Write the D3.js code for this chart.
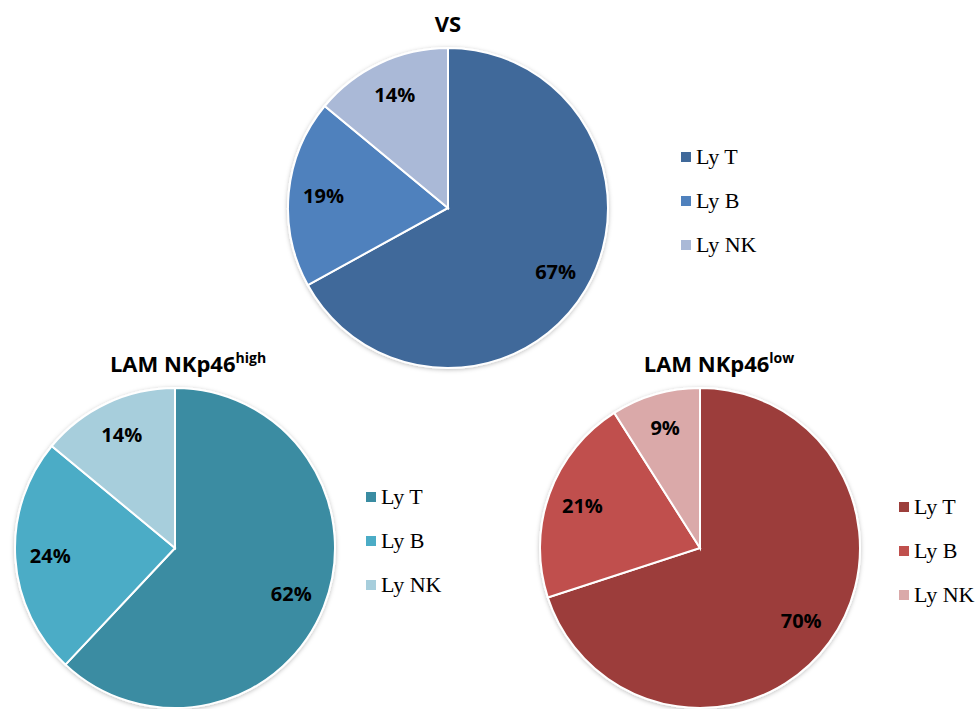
<!DOCTYPE html>
<html lang="en">
<head>
<meta charset="UTF-8">
<title>Pies</title>
<script src="https://d3js.org/d3.v7.min.js"></script>
<style>
html, body { margin: 0; padding: 0; background: #fff; }
svg { display: block; }
.title { font-family: 'Open Sans', sans-serif; font-weight: bold; font-size: 22px; fill: #000; }
.pct { font-family: 'Open Sans', sans-serif; font-weight: bold; font-size: 20px; fill: #000; }
.leg { font-family: 'Liberation Serif', 'Times New Roman', serif; font-size: 22px; fill: #000; }
</style>
</head>
<body>
<svg id="canvas"></svg>
<script>
let categories = ['Ly T', 'Ly B', 'Ly NK']

let vsValues = [67, 19, 14]
let highValues = [62, 24, 14]
let lowValues = [70, 21, 9]

let vsColors = ['#40699A', '#4F81BD', '#AAB9D7']
let highColors = ['#3A8CA2', '#4BACC6', '#A7CEDC']
let lowColors = ['#9C3E3B', '#C0504D', '#DAA9A9']

let width = 980
let height = 709
let radius = 160
let labelRadius = 125

let charts = [
    { title: 'VS', sup: '', values: vsValues, colors: vsColors, cx: 448, cy: 208, tx: 448, ty: 32, lx: 681, ly: 157 },
    { title: 'LAM NKp46', sup: 'high', values: highValues, colors: highColors, cx: 175, cy: 548, tx: 188, ty: 372, lx: 366, ly: 497 },
    { title: 'LAM NKp46', sup: 'low', values: lowValues, colors: lowColors, cx: 700, cy: 548, tx: 719, ty: 372, lx: 899, ly: 507 }
]

let svg = d3.select('#canvas')
    .attr('width', width)
    .attr('height', height)

let defs = svg.append('defs')
let filter = defs.append('filter').attr('id', 'shadow')
    .attr('x', '-20%').attr('y', '-20%').attr('width', '140%').attr('height', '140%')
filter.append('feDropShadow')
    .attr('dx', 0).attr('dy', 1).attr('stdDeviation', 2)
    .attr('flood-color', '#000').attr('flood-opacity', 0.25)

let pie = d3.pie().sort(null).value(d => d)
let arc = d3.arc().innerRadius(0).outerRadius(radius)
let labelArc = d3.arc().innerRadius(labelRadius).outerRadius(labelRadius)

let drawChart = (c) => {
    let g = svg.append('g').attr('transform', 'translate(' + c.cx + ',' + c.cy + ')')
    let arcs = pie(c.values)

    g.append('g')
        .attr('filter', 'url(#shadow)')
        .selectAll('path')
        .data(arcs)
        .enter()
        .append('path')
        .attr('d', arc)
        .attr('fill', (d, i) => c.colors[i])
        .attr('stroke', '#fff')
        .attr('stroke-width', 2)

    g.selectAll('.pct')
        .data(arcs)
        .enter()
        .append('text')
        .attr('class', 'pct')
        .attr('transform', d => 'translate(' + labelArc.centroid(d) + ')')
        .attr('text-anchor', 'middle')
        .attr('dy', '0.35em')
        .text(d => d.data + '%')

    let t = svg.append('text')
        .attr('class', 'title')
        .attr('x', c.tx)
        .attr('y', c.ty)
        .attr('text-anchor', 'middle')
    t.append('tspan').text(c.title)
    if (c.sup) {
        t.append('tspan')
            .attr('dy', -9)
            .style('font-size', '14px')
            .text(c.sup)
    }

    let leg = svg.append('g').attr('transform', 'translate(' + c.lx + ',' + c.ly + ')')
    let rows = leg.selectAll('g')
        .data(categories)
        .enter()
        .append('g')
        .attr('transform', (d, i) => 'translate(0,' + (i * 44) + ')')
    rows.append('rect')
        .attr('x', 0).attr('y', -5)
        .attr('width', 10).attr('height', 10)
        .attr('fill', (d, i) => c.colors[i])
    rows.append('text')
        .attr('class', 'leg')
        .attr('x', 15)
        .attr('y', 7)
        .text(d => d)
}

charts.forEach(drawChart)
</script>
</body>
</html>
